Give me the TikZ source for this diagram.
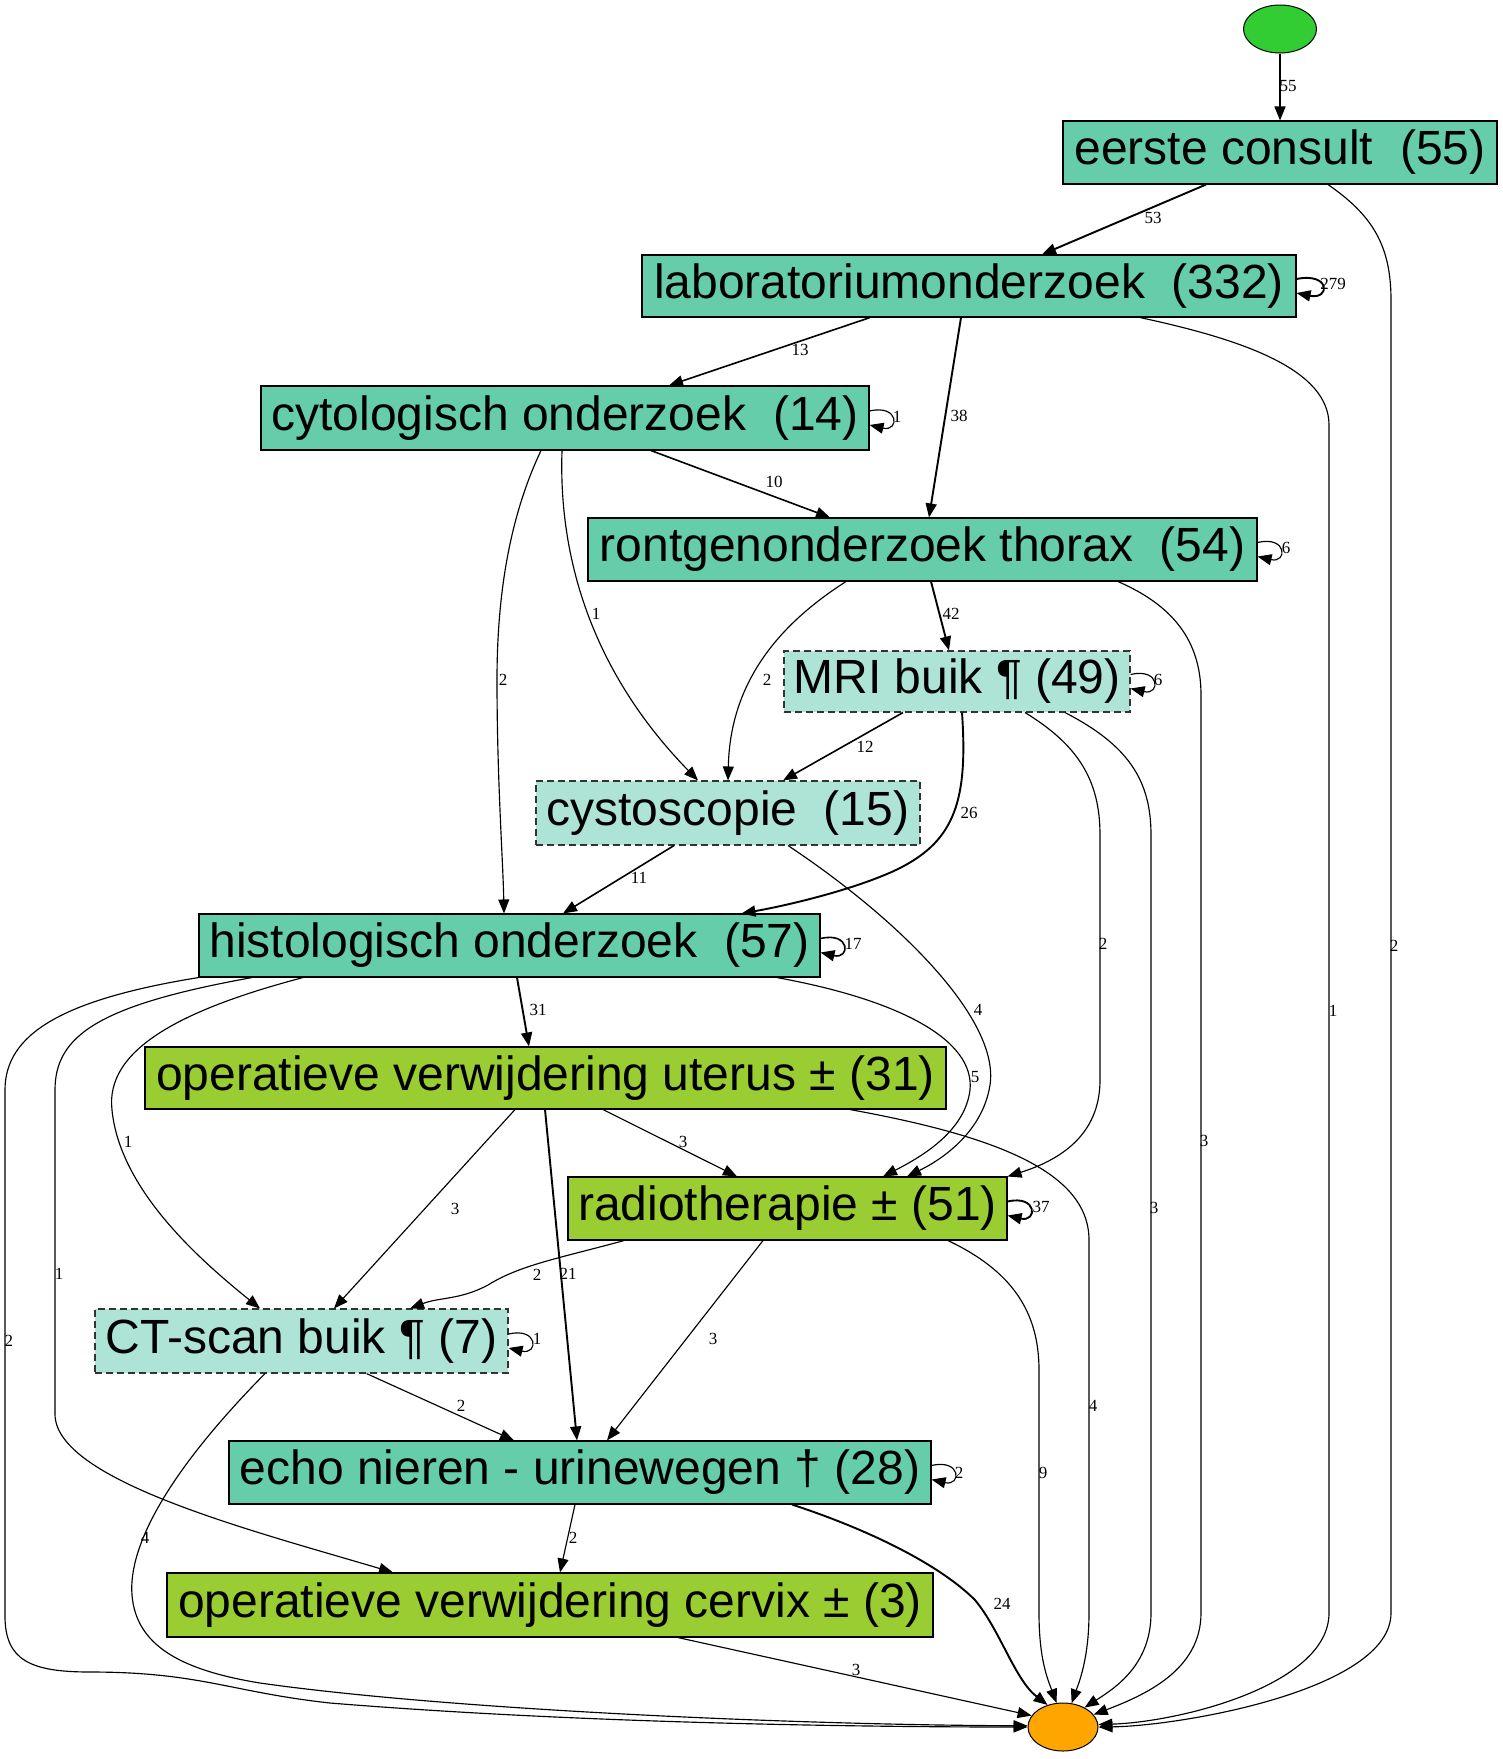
\documentclass[tikz,border=0pt]{standalone}
\usepackage{fontspec}
\setmainfont{Liberation Sans}
\newfontfamily\lblfont{Liberation Serif}
\usetikzlibrary{arrows.meta,calc,shapes.geometric}
\definecolor{aqua}{RGB}{102,205,170}
\definecolor{aqualight}{RGB}{174,228,214}
\definecolor{ygreen}{RGB}{154,205,50}
\definecolor{lgreen}{RGB}{50,205,50}
\definecolor{orng}{RGB}{255,165,0}
\begin{document}
\begin{tikzpicture}[x=1pt,y=-1pt,
  box/.style={draw=black, line width=1.1pt, rectangle, inner sep=0pt, text=black,
    font=\fontsize{48}{52}\selectfont},
  tbox/.style={box, fill=aqua},
  dbox/.style={box, fill=aqualight, draw=black!80, dash pattern=on 7pt off 4pt},
  gbox/.style={box, fill=ygreen},
  e/.style={draw=black, -{Triangle[length=14pt,width=11pt]}, line width=1.15pt},
  e2/.style={e, line width=1.6pt},
  e3/.style={e, line width=1.9pt},
  lbl/.style={font=\lblfont\fontsize{17}{18}\selectfont, inner sep=0pt, text=black}]
\useasboundingbox (0,0) rectangle (1502,1759);
\fill[white] (0,0) rectangle (1502,1759);

% nodes
\node[ellipse, draw=black, line width=1pt, fill=lgreen, minimum width=73, minimum height=48, inner sep=0pt] (start) at (1280,29) {};
\node[tbox, minimum width=434, minimum height=63] (eerste) at (1280,152.5) {eerste consult~~(55)};
\node[tbox, minimum width=654, minimum height=62] (lab) at (969,286) {laboratoriumonderzoek~~(332)};
\node[tbox, minimum width=608, minimum height=64] (cyto) at (565,418) {cytologisch onderzoek~~(14)};
\node[tbox, minimum width=669, minimum height=63] (ront) at (922.5,549.5) {rontgenonderzoek thorax~~(54)};
\node[dbox, minimum width=346, minimum height=61] (mri) at (957,681.5) {MRI buik ¶ (49)};
\node[dbox, minimum width=384, minimum height=64] (cysto) at (728,813) {cystoscopie~~(15)};
\node[tbox, minimum width=621, minimum height=63] (histo) at (509.5,945.5) {histologisch onderzoek~~(57)};
\node[gbox, minimum width=801, minimum height=62] (uterus) at (545.5,1078) {operatieve verwijdering uterus ± (31)};
\node[gbox, minimum width=439, minimum height=63] (radio) at (787.5,1208.5) {radiotherapie ± (51)};
\node[dbox, minimum width=413, minimum height=64] (ct) at (301.5,1341) {CT-scan buik ¶ (7)};
\node[tbox, minimum width=702, minimum height=63] (echo) at (580,1472.5) {echo nieren - urinewegen † (28)};
\node[gbox, minimum width=766, minimum height=64] (cervix) at (550,1605) {operatieve verwijdering cervix ± (3)};
\node[ellipse, draw=black, line width=1pt, fill=orng, minimum width=70, minimum height=48, inner sep=0pt] (end) at (1063,1727) {};

% edges
\draw[e2] (start) -- (eerste);
\draw[e3] ([xshift=-74]eerste.south) -- ([xshift=73]lab.north);
\draw[e] ([xshift=48]eerste.south) .. controls (1372,215) and (1391,245) .. (1391,300) -- (1391,1613) .. controls (1391,1690) and (1180,1726) .. (end.0);

\draw[e3] ([yshift=7]lab.east) .. controls +(34,-7) and +(34,7) .. ([yshift=-7]lab.east);
\draw[e2] ([xshift=-99]lab.south) -- ([xshift=104]cyto.north);
\draw[e3] ([xshift=-8]lab.south) -- ([xshift=6.5]ront.north);
\draw[e] ([xshift=171]lab.south) .. controls (1245,340) and (1329,370) .. (1329,425) -- (1329,1613) .. controls (1329,1685) and (1180,1722) .. (end.4);

\draw[e] ([yshift=7]cyto.east) .. controls +(30,-7) and +(30,7) .. ([yshift=-7]cyto.east);
\draw[e2] ([xshift=86]cyto.south) -- ([xshift=-92.5]ront.north);
\draw[e] ([xshift=-24]cyto.south) .. controls (508,520) and (497,600) .. (497,680) .. controls (497,780) and (503,860) .. ([xshift=-5.5]histo.north);
\draw[e] ([xshift=-3]cyto.south) .. controls (558,570) and (600,680) .. ([xshift=-30]cysto.north);

\draw[e] ([yshift=7]ront.east) .. controls +(30,-7) and +(30,7) .. ([yshift=-7]ront.east);
\draw[e3] ([xshift=8.5]ront.south) -- ([xshift=-8]mri.north);
\draw[e] ([xshift=-76.5]ront.south) .. controls (770,630) and (730,690) .. (cysto.north);
\draw[e] ([xshift=195.5]ront.south) .. controls (1172,605) and (1201,640) .. (1201,695) -- (1201,1613) .. controls (1201,1670) and (1145,1695) .. (end.22);

\draw[e] ([yshift=7]mri.east) .. controls +(30,-7) and +(30,7) .. ([yshift=-7]mri.east);
\draw[e2] ([xshift=-54]mri.south) -- ([xshift=55]cysto.north);
\draw[e3] ([xshift=5]mri.south) .. controls (968,800) and (955,840) .. (900,868) .. controls (860,888) and (790,905) .. ([xshift=232]histo.north);
\draw[e] ([xshift=68]mri.south) .. controls (1078,745) and (1100,780) .. (1100,835) -- (1100,1080) .. controls (1100,1135) and (1060,1160) .. (radio.north east);
\draw[e] ([xshift=108]mri.south) .. controls (1128,745) and (1151,780) .. (1151,835) -- (1151,1613) .. controls (1151,1665) and (1115,1688) .. (end.42);

\draw[e2] ([xshift=-54]cysto.south) -- ([xshift=53.5]histo.north);
\draw[e] ([xshift=60]cysto.south) .. controls (900,920) and (1000,1020) .. (990,1085) .. controls (983,1130) and (945,1158) .. ([xshift=119.5]radio.north);

\draw[e2] ([yshift=7]histo.east) .. controls +(30,-7) and +(30,7) .. ([yshift=-7]histo.east);
\draw[e3] ([xshift=7.5]histo.south) -- ([xshift=-16.5]uterus.north);
\draw[e] ([xshift=267.5]histo.south) .. controls (900,1000) and (975,1040) .. (970,1090) .. controls (965,1130) and (925,1155) .. ([xshift=95.5]radio.north);
\draw[e] ([xshift=-206.5]histo.south) .. controls (180,1010) and (105,1050) .. (112,1110) .. controls (120,1190) and (200,1260) .. ([xshift=-41.5]ct.north);
\draw[e] ([xshift=-257.5]histo.south) .. controls (100,1005) and (55,1035) .. (55,1090) -- (55,1414) .. controls (55,1480) and (250,1530) .. ([xshift=-157]cervix.north);
\draw[e] (histo.south west) .. controls (60,1000) and (5,1035) .. (5,1090) -- (5,1616) .. controls (5,1660) and (30,1672) .. (90,1672) .. controls (200,1672) and (230,1692) .. (330,1703) .. controls (600,1725) and (900,1727) .. (end.180);

\draw[e] ([xshift=57.5]uterus.south) -- ([xshift=-50.5]radio.north);
\draw[e] ([xshift=-30.5]uterus.south) -- ([xshift=32.5]ct.north);
\draw[e3] ([xshift=-0.5]uterus.south) -- ([xshift=-3]echo.north);
\draw[e] ([xshift=304.5]uterus.south) .. controls (990,1135) and (1089,1170) .. (1089,1240) -- (1089,1613) .. controls (1089,1660) and (1078,1685) .. (end.70);

\draw[e3] ([yshift=7]radio.east) .. controls +(30,-7) and +(30,7) .. ([yshift=-7]radio.east);
\draw[e] ([xshift=-163.5]radio.south) .. controls (560,1258) and (520,1265) .. (488,1285) .. controls (460,1300) and (440,1297) .. ([xshift=108.5]ct.north);
\draw[e] ([xshift=-24.5]radio.south) -- ([xshift=27]echo.north);
\draw[e] ([xshift=160.5]radio.south) .. controls (1010,1270) and (1039,1310) .. (1039,1370) -- (1039,1613) .. controls (1039,1660) and (1048,1680) .. (end.105);

\draw[e] ([yshift=7]ct.east) .. controls +(30,-7) and +(30,7) .. ([yshift=-7]ct.east);
\draw[e] ([xshift=65]ct.south) -- ([xshift=-66]echo.north);
\draw[e] ([xshift=-36.5]ct.south) .. controls (170,1470) and (128,1545) .. (132,1595) .. controls (136,1645) and (180,1670) .. (260,1683) .. controls (450,1710) and (800,1725) .. (end.178);

\draw[e] ([yshift=7]echo.east) .. controls +(30,-7) and +(30,7) .. ([yshift=-7]echo.east);
\draw[e] ([xshift=-5]echo.south) -- ([xshift=10]cervix.north);
\draw[e3] ([xshift=212]echo.south) .. controls (870,1530) and (940,1565) .. (975,1600) .. controls (1000,1630) and (1015,1680) .. (end.125);
\draw[e] ([xshift=128]cervix.south) -- (end.160);

% labels
\node[lbl] (l1) at (1288,86) {55};
\node[lbl] (l2) at (1153,218) {53};
\node[lbl] (l3) at (1394,946) {2};
\node[lbl] (l4) at (1333,284) {279};
\node[lbl] (l5) at (800,350) {13};
\node[lbl] (l6) at (959,416) {38};
\node[lbl] (l7) at (1333,1011) {1};
\node[lbl] (l8) at (897,417) {1};
\node[lbl] (l9) at (774,482) {10};
\node[lbl] (l10) at (503,680) {2};
\node[lbl] (l11) at (596,614) {1};
\node[lbl] (l12) at (1286,548) {6};
\node[lbl] (l13) at (951,614) {42};
\node[lbl] (l14) at (767,680) {2};
\node[lbl] (l15) at (1204,1141) {3};
\node[lbl] (l16) at (1158,680) {6};
\node[lbl] (l17) at (865,747) {12};
\node[lbl] (l18) at (969,813) {26};
\node[lbl] (l19) at (1103,944) {2};
\node[lbl] (l20) at (1154,1208) {3};
\node[lbl] (l21) at (639,878) {11};
\node[lbl] (l22) at (978,1010) {4};
\node[lbl] (l23) at (853,944) {17};
\node[lbl] (l24) at (538,1010) {31};
\node[lbl] (l25) at (975,1077) {5};
\node[lbl] (l26) at (128,1142) {1};
\node[lbl] (l27) at (59,1274) {1};
\node[lbl] (l28) at (9,1341) {2};
\node[lbl] (l29) at (683,1142) {3};
\node[lbl] (l30) at (455,1209) {3};
\node[lbl] (l31) at (568,1274) {21};
\node[lbl] (l32) at (1093,1406) {4};
\node[lbl] (l33) at (1041,1207) {37};
\node[lbl] (l34) at (537,1275) {2};
\node[lbl] (l35) at (713,1339) {3};
\node[lbl] (l36) at (1043,1473) {9};
\node[lbl] (l37) at (537,1339) {1};
\node[lbl] (l38) at (461,1406) {2};
\node[lbl] (l39) at (145,1538) {4};
\node[lbl] (l40) at (959,1473) {2};
\node[lbl] (l41) at (573,1538) {2};
\node[lbl] (l42) at (1002,1604) {24};
\node[lbl] (l43) at (856,1670) {3};
\end{tikzpicture}
\end{document}
